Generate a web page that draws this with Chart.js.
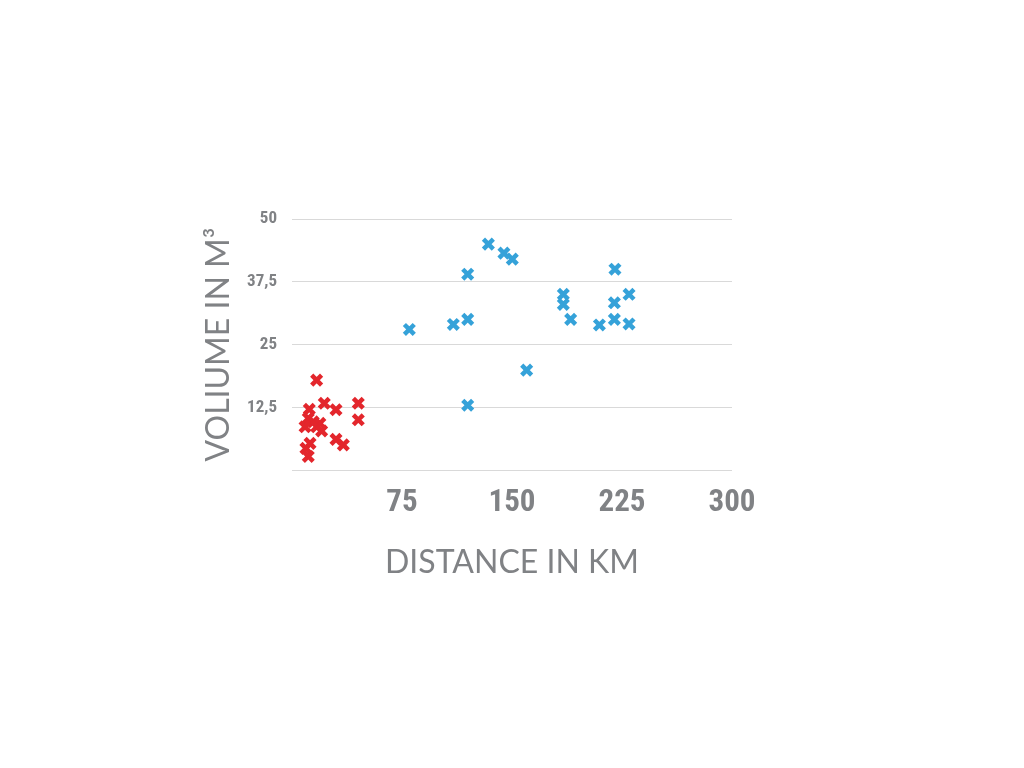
<!DOCTYPE html>
<html>
<head>
<meta charset="utf-8">
<script src="https://cdn.jsdelivr.net/npm/chart.js@4/dist/chart.umd.min.js"></script>
<style>
  html, body { margin: 0; padding: 0; background: #fff; }
  canvas { display: block; }
</style>
</head>
<body>
<canvas id="chart" width="1024" height="768"></canvas>
<script>
// Short trips (red)
const shortDistance = [16.8, 11.8, 22, 30, 45.2, 45.2, 11.1, 14.5, 19, 8.9, 16.8, 20.2, 30, 35, 12.3, 9.5, 11.1];
const shortVolume = [17.9, 12.1, 13.3, 12, 13.3, 10, 10.3, 9.6, 9.3, 8.6, 8.6, 7.8, 6.1, 5, 5.3, 4.3, 2.7];

// Long trips (blue)
const longDistance = [133.9, 144.5, 150.2, 119.8, 80, 110, 119.8, 160, 119.8, 220.2, 185, 185, 190, 209.6, 219.8, 219.8, 229.8, 229.8];
const longVolume = [45, 43.2, 42, 39, 28, 29, 30, 19.9, 12.9, 40, 35, 33, 30, 28.9, 30, 33.3, 35, 29.1];

const xTicks = [75, 150, 225, 300];
const yTicks = [12.5, 25, 37.5, 50];

const toPoints = (xs, ys) => xs.map((x, i) => ({ x, y: ys[i] }));

const grey = '#808285';
const tickFont = { family: '"Roboto Condensed", "Open Sans", sans-serif', weight: 'bold' };
const titleFont = { family: 'Lato, "Open Sans", sans-serif', size: 32 };

const markerStyle = (color) => ({
  pointStyle: 'crossRot',
  pointRadius: 7,
  pointHoverRadius: 7,
  borderColor: color,
  backgroundColor: color,
  pointBorderWidth: 4.5,
  borderWidth: 4.5,
});

new Chart(document.getElementById('chart'), {
  type: 'scatter',
  data: {
    datasets: [
      { label: 'short', data: toPoints(shortDistance, shortVolume), ...markerStyle('#E3262C') },
      { label: 'long', data: toPoints(longDistance, longVolume), ...markerStyle('#35A2D9') },
    ]
  },
  options: {
    responsive: false,
    animation: false,
    layout: { padding: { left: 0, top: 219, right: 292, bottom: 0 } },
    plugins: { legend: { display: false }, tooltip: { enabled: false } },
    scales: {
      x: {
        type: 'linear',
        min: 0,
        max: 300,
        afterBuildTicks: (scale) => { scale.ticks = [0, ...xTicks].map(v => ({ value: v })); },
        afterFit: (scale) => { scale.height = 298; },
        grid: { display: false, drawTicks: false },
        border: { display: false },
        ticks: {
          color: grey,
          font: { ...tickFont, size: 31 },
          padding: 15,
          maxRotation: 0,
          callback: (v) => (v === 0 ? '' : String(v)),
        },
        title: {
          display: true,
          text: 'DISTANCE IN KM',
          color: grey,
          font: titleFont,
          padding: { top: 0, bottom: 186 },
        },
      },
      y: {
        type: 'linear',
        min: 0,
        max: 50,
        afterBuildTicks: (scale) => { scale.ticks = [0, ...yTicks].map(v => ({ value: v })); },
        afterFit: (scale) => { scale.width = 292; },
        grid: { color: '#d9d9d9', lineWidth: 1, drawTicks: false },
        border: { display: false },
        ticks: {
          color: grey,
          font: { ...tickFont, size: 17 },
          padding: 15,
          callback: (v) => (v === 0 ? '' : String(v).replace('.', ',')),
        },
        title: {
          display: true,
          text: 'VOLIUME IN M³',
          color: grey,
          font: titleFont,
          padding: { top: 199, bottom: 0 },
        },
      },
    },
  },
});
</script>
</body>
</html>
